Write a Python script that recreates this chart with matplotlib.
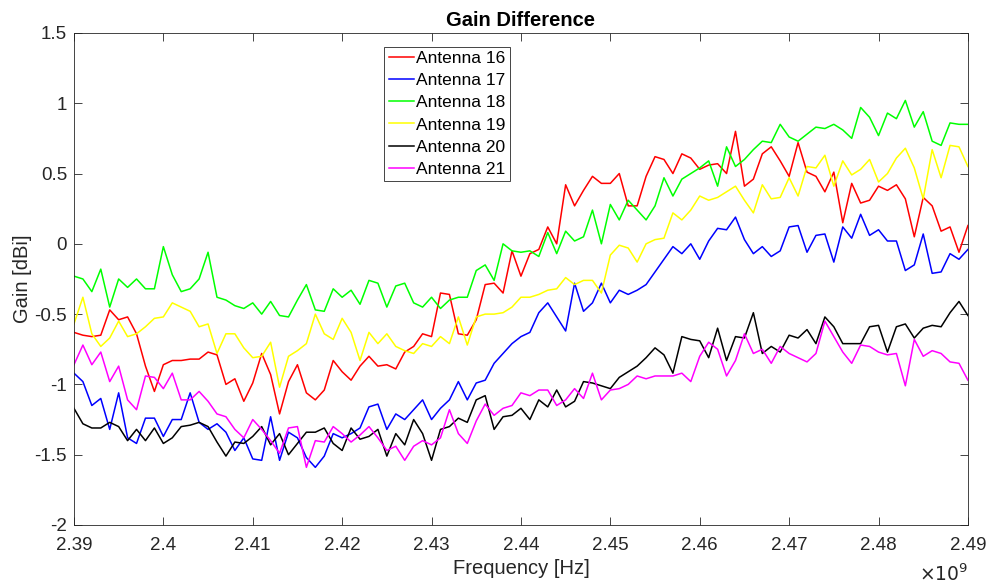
import numpy as np
import matplotlib
matplotlib.use('Agg')
import matplotlib.pyplot as plt
from matplotlib.ticker import FuncFormatter

plt.rcParams['font.family'] = ['Liberation Sans', 'DejaVu Sans']

# Frequency sweep, 1 MHz steps
freq = np.linspace(2.39e9, 2.49e9, 101)

ant16 = [-0.63, -0.65, -0.66, -0.65, -0.47, -0.54, -0.52, -0.64, -0.87, -1.05, -0.86, -0.83, -0.83, -0.82,
         -0.82, -0.77, -0.79, -1.00, -0.96, -1.12, -0.99, -0.78, -0.93, -1.21, -0.98, -0.86, -1.06,
         -1.11, -1.04, -0.83, -0.91, -0.97, -0.87, -0.80, -0.87, -0.86, -0.89, -0.77, -0.73, -0.64, -0.66,
         -0.35, -0.36, -0.64, -0.65, -0.54, -0.29, -0.28, -0.35, -0.05, -0.23, -0.07,
         -0.04, 0.12, 0.00, 0.42, 0.27, 0.38, 0.48, 0.43, 0.43, 0.50, 0.27, 0.27, 0.48, 0.62, 0.60, 0.50,
         0.64, 0.61, 0.53, 0.56, 0.57, 0.50, 0.80, 0.41, 0.46, 0.64,
         0.69, 0.59, 0.48, 0.72, 0.51, 0.48, 0.37, 0.51, 0.15, 0.43, 0.29, 0.31, 0.41, 0.38, 0.42, 0.32,
         0.05, 0.33, 0.27, 0.09, 0.12, -0.06, 0.13]

ant17 = [-0.92, -0.98, -1.15, -1.10, -1.32, -1.06, -1.38, -1.42, -1.24, -1.24, -1.37, -1.25, -1.25, -1.06,
         -1.27, -1.32, -1.28, -1.34, -1.47, -1.38, -1.53, -1.54, -1.23, -1.54, -1.34, -1.38, -1.52,
         -1.59, -1.51, -1.35, -1.38, -1.35, -1.31, -1.16, -1.14, -1.32, -1.21, -1.25, -1.18, -1.11, -1.25,
         -1.17, -1.11, -0.98, -1.11, -0.99, -0.97, -0.85, -0.78, -0.71, -0.66, -0.63,
         -0.49, -0.42, -0.52, -0.62, -0.28, -0.48, -0.42, -0.28, -0.42, -0.33, -0.36, -0.33, -0.29, -0.20,
         -0.11, -0.02, -0.07, 0.00, -0.11, 0.02, 0.11, 0.10, 0.19, 0.03, -0.07, -0.02,
         -0.09, -0.05, 0.12, 0.13, -0.06, 0.06, 0.07, -0.13, 0.12, 0.04, 0.21, 0.06, 0.10, 0.02, 0.02,
         -0.19, -0.15, 0.07, -0.21, -0.20, -0.07, -0.11, -0.04]

ant18 = [-0.23, -0.25, -0.34, -0.18, -0.45, -0.25, -0.31, -0.25, -0.32, -0.32, -0.02, -0.22, -0.34, -0.32,
         -0.25, -0.06, -0.38, -0.40, -0.44, -0.46, -0.42, -0.50, -0.41, -0.51, -0.52, -0.40, -0.29,
         -0.47, -0.48, -0.32, -0.38, -0.33, -0.43, -0.26, -0.28, -0.45, -0.30, -0.28, -0.42, -0.45, -0.38,
         -0.46, -0.40, -0.38, -0.38, -0.19, -0.15, -0.26, 0.00, -0.05, -0.06, -0.05,
         -0.09, 0.08, -0.07, 0.09, 0.02, 0.05, 0.24, 0.00, 0.28, 0.17, 0.31, 0.24, 0.17, 0.27, 0.47, 0.34,
         0.46, 0.50, 0.54, 0.59, 0.41, 0.69, 0.55, 0.60, 0.67, 0.73,
         0.72, 0.85, 0.76, 0.73, 0.78, 0.83, 0.82, 0.85, 0.81, 0.75, 0.97, 0.90, 0.77, 0.93, 0.89, 1.02,
         0.83, 0.94, 0.73, 0.70, 0.86, 0.85, 0.85]

ant19 = [-0.57, -0.38, -0.64, -0.73, -0.67, -0.55, -0.66, -0.64, -0.59, -0.53, -0.52, -0.42, -0.45, -0.48,
         -0.59, -0.57, -0.78, -0.64, -0.64, -0.74, -0.81, -0.80, -0.70, -1.02, -0.80, -0.76, -0.71,
         -0.50, -0.64, -0.68, -0.53, -0.63, -0.83, -0.63, -0.71, -0.64, -0.73, -0.76, -0.78, -0.71, -0.73,
         -0.66, -0.71, -0.52, -0.72, -0.52, -0.50, -0.50, -0.49, -0.45, -0.38, -0.38,
         -0.36, -0.33, -0.32, -0.24, -0.29, -0.26, -0.26, -0.35, -0.08, -0.01, -0.03, -0.13, 0.00, 0.03,
         0.04, 0.22, 0.17, 0.24, 0.34, 0.31, 0.33, 0.37, 0.41, 0.31, 0.22, 0.42,
         0.32, 0.33, 0.47, 0.34, 0.55, 0.54, 0.63, 0.41, 0.59, 0.49, 0.53, 0.60, 0.44, 0.50, 0.61, 0.68,
         0.54, 0.32, 0.67, 0.47, 0.70, 0.69, 0.55]

ant20 = [-1.17, -1.28, -1.31, -1.31, -1.27, -1.30, -1.40, -1.32, -1.40, -1.31, -1.42, -1.38, -1.30, -1.29,
         -1.27, -1.30, -1.41, -1.51, -1.41, -1.42, -1.37, -1.30, -1.43, -1.35, -1.50, -1.42, -1.34,
         -1.34, -1.31, -1.42, -1.47, -1.31, -1.39, -1.37, -1.32, -1.51, -1.35, -1.43, -1.25, -1.35, -1.54,
         -1.32, -1.30, -1.24, -1.27, -1.11, -1.08, -1.32, -1.23, -1.22, -1.17, -1.25,
         -1.11, -1.16, -1.04, -1.16, -1.12, -0.98, -0.99, -1.01, -1.03, -0.95, -0.91, -0.87, -0.81, -0.74,
         -0.79, -0.92, -0.66, -0.68, -0.69, -0.81, -0.60, -0.83, -0.66, -0.67, -0.49, -0.78,
         -0.73, -0.77, -0.65, -0.67, -0.61, -0.71, -0.52, -0.59, -0.71, -0.71, -0.71, -0.59, -0.58, -0.77,
         -0.59, -0.57, -0.67, -0.60, -0.58, -0.59, -0.49, -0.41, -0.51]

ant21 = [-0.86, -0.72, -0.86, -0.77, -0.98, -0.87, -1.11, -1.18, -0.94, -0.95, -1.03, -0.92, -1.11, -1.11,
         -1.05, -1.12, -1.21, -1.23, -1.32, -1.38, -1.25, -1.32, -1.40, -1.49, -1.31, -1.30, -1.59,
         -1.40, -1.41, -1.30, -1.35, -1.41, -1.36, -1.30, -1.38, -1.47, -1.44, -1.54, -1.44, -1.40, -1.43,
         -1.38, -1.18, -1.35, -1.42, -1.26, -1.14, -1.22, -1.17, -1.15, -1.06, -1.08,
         -1.04, -1.04, -1.15, -1.11, -1.03, -1.10, -0.92, -1.11, -1.04, -1.03, -1.00, -0.94, -0.96, -0.94,
         -0.94, -0.94, -0.92, -0.98, -0.80, -0.70, -0.75, -0.94, -0.83, -0.64, -0.78, -0.75,
         -0.85, -0.73, -0.78, -0.81, -0.84, -0.78, -0.55, -0.66, -0.77, -0.85, -0.72, -0.73, -0.77, -0.79,
         -0.78, -1.01, -0.68, -0.80, -0.76, -0.78, -0.84, -0.85, -0.97]

labels = ['Antenna 16', 'Antenna 17', 'Antenna 18', 'Antenna 19', 'Antenna 20', 'Antenna 21']
colors = ['#ff0000', '#0000ff', '#00ff00', '#ffff00', '#000000', '#ff00ff']

axis_gray = '#262626'

fig = plt.figure(figsize=(9.9, 5.83), dpi=100)
ax = fig.add_axes([0.0747, 0.0995, 0.903, 0.844])

for data, label, color in zip([ant16, ant17, ant18, ant19, ant20, ant21], labels, colors):
    ax.plot(freq, data, color=color, linewidth=1.1, label=label)

ax.set_xlim(2.39e9, 2.49e9)
ax.set_ylim(-2, 1.5)
ax.set_xticks(np.linspace(2.39e9, 2.49e9, 11))
ax.set_yticks(np.arange(-2, 1.51, 0.5))
ax.xaxis.set_major_formatter(FuncFormatter(lambda v, p: f'{v / 1e9:g}'))
ax.yaxis.set_major_formatter(FuncFormatter(lambda v, p: f'{v:g}'))

ax.tick_params(direction='in', top=True, right=True, length=6, width=0.6,
               colors=axis_gray, labelsize=13.5)
ax.tick_params(axis='x', pad=9)
ax.tick_params(axis='y', pad=5)
for s in ax.spines.values():
    s.set_color(axis_gray)
    s.set_linewidth(0.6)

ax.set_title('Gain Difference', fontsize=14.5, fontweight='bold', pad=5)
ax.set_xlabel('Frequency [Hz]', fontsize=14.5, color=axis_gray, labelpad=3)
ax.set_ylabel('Gain [dBi]', fontsize=14.5, color=axis_gray, labelpad=2)
ax.text(1.0, -0.078, r'$\times10^{9}$', transform=ax.transAxes, ha='right', va='top',
        fontsize=13.5, color=axis_gray)

leg = ax.legend(loc='upper left', bbox_to_anchor=(0.347, 0.972), fontsize=12.5,
                frameon=True, fancybox=False, framealpha=1, edgecolor=axis_gray,
                handlelength=1.45, handletextpad=0.15, labelspacing=0.4,
                borderpad=0.25, borderaxespad=0)
leg.get_frame().set_linewidth(0.6)

fig.savefig('out.png', dpi=100)
